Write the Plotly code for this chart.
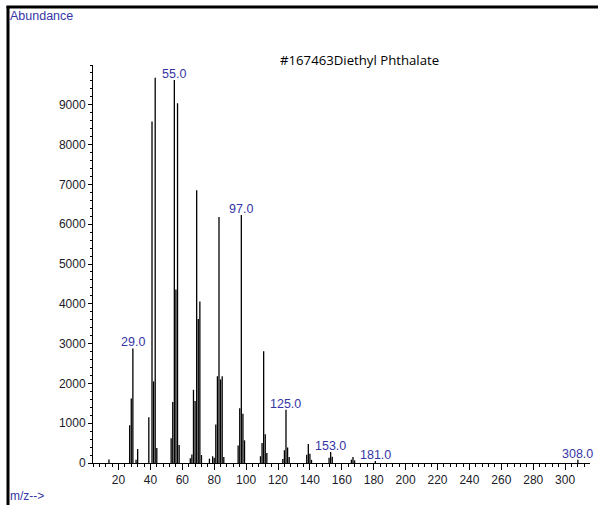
import plotly.graph_objects as go

# m/z values and abundances
mz = [14, 27, 28, 29, 31, 32, 39, 41, 42, 43, 44,
      53, 54, 55, 56, 57, 58,
      65, 66, 67, 68, 69, 70, 71, 72,
      77, 79, 80, 81, 82, 83, 84, 85, 86,
      95, 96, 97, 98, 99,
      109, 110, 111, 112, 113,
      123, 124, 125, 126, 127,
      138, 139, 140, 141,
      152, 153, 154,
      166, 167, 168,
      181, 308]
abundance = [90, 950, 1620, 2880, 80, 350, 1150, 8580, 2050, 9680, 380,
             620, 1530, 9620, 4360, 9040, 450,
             120, 215, 1840, 1560, 6850, 3620, 4060, 200,
             110, 170, 130, 970, 2180, 6180, 2100, 2180, 150,
             440, 1375, 6230, 1240, 570,
             170, 500, 2810, 720, 250,
             100, 320, 1340, 390, 150,
             210, 480, 230, 80,
             134, 277, 160,
             84, 150, 67,
             50, 84]

labelled_mz = [29, 55, 97, 125, 153, 181, 308]

y_ticks = list(range(0, 10000, 1000))
x_ticks = list(range(20, 301, 20))

title_text = "#167463Diethyl Phthalate"
y_title = "Abundance"
x_title = "m/z-->"

W, H = 598, 505
L, R, T, B = 93, 8, 65, 42.3
X_RANGE = [4.0, 315.6]
Y_RANGE = [0, 10000]

# stick spectrum: one vertical segment per peak
stick_x, stick_y = [], []
for m, a in zip(mz, abundance):
    stick_x += [m, m, None]
    stick_y += [0, a, None]

fig = go.Figure()
fig.add_trace(go.Scatter(
    x=stick_x, y=stick_y, mode="lines",
    line=dict(color="black", width=1.3),
    hoverinfo="skip", showlegend=False,
))

label_color = "#3535a5"
lookup = dict(zip(mz, abundance))
for m in labelled_mz:
    fig.add_annotation(
        x=m, y=lookup[m], text=f"{m:.1f}", showarrow=False,
        xanchor="center", yanchor="bottom", yshift=-3,
        font=dict(family="Liberation Sans, Arial", size=12.5, color=label_color),
    )

pw = W - L - R
ph = H - T - B


def px_x(p):
    return (p - L) / pw


def px_y(p):
    return 1 - (p - T) / ph


# frame lines (thick left and top border)
fig.add_shape(type="line", xref="paper", yref="paper",
              x0=px_x(8), x1=px_x(8), y0=px_y(6), y1=px_y(H + 2),
              line=dict(color="black", width=3))
fig.add_shape(type="line", xref="paper", yref="paper",
              x0=px_x(6.5), x1=px_x(W + 2), y0=px_y(7), y1=px_y(7),
              line=dict(color="black", width=3))

fig.add_annotation(xref="paper", yref="paper", x=px_x(8), y=px_y(7),
                   xanchor="left", yanchor="top", showarrow=False,
                   text=y_title,
                   font=dict(family="Liberation Sans, Arial", size=12.5, color=label_color))
fig.add_annotation(xref="paper", yref="paper", x=px_x(8), y=px_y(505),
                   xanchor="left", yanchor="bottom", showarrow=False,
                   text=x_title,
                   font=dict(family="Liberation Sans, Arial", size=12, color=label_color))
fig.add_annotation(xref="paper", yref="paper", x=px_x(359), y=px_y(60),
                   xanchor="center", yanchor="middle", showarrow=False,
                   text=title_text,
                   font=dict(family="Open Sans", size=13.2, color="black"))

axis_font = dict(family="Liberation Sans, Arial", size=12, color="#1a1a2a")
fig.update_xaxes(
    range=X_RANGE, showgrid=False, zeroline=False,
    showline=True, linecolor="black", linewidth=1,
    ticks="outside", ticklen=6, tickwidth=1, tickcolor="black",
    tickvals=x_ticks, ticktext=[str(v) for v in x_ticks],
    tickfont=axis_font,
    minor=dict(dtick=4, tick0=0, ticks="outside", ticklen=3, tickcolor="black", tickwidth=1),
)
fig.update_yaxes(
    range=Y_RANGE, showgrid=False, zeroline=False,
    showline=True, linecolor="black", linewidth=1,
    ticks="outside", ticklen=4, tickwidth=1, tickcolor="black",
    tickvals=y_ticks, ticktext=[str(v) for v in y_ticks],
    tickfont=axis_font,
    minor=dict(dtick=200, tick0=0, ticks="outside", ticklen=2, tickcolor="black", tickwidth=1),
)
fig.update_layout(
    width=W, height=H,
    margin=dict(l=L, r=R, t=T, b=B, pad=0),
    paper_bgcolor="white", plot_bgcolor="white",
    showlegend=False,
)

fig.write_html(
    "out.html",
    config={"displayModeBar": False},
    post_script="document.body.style.margin='0';document.body.style.padding='0';",
)
